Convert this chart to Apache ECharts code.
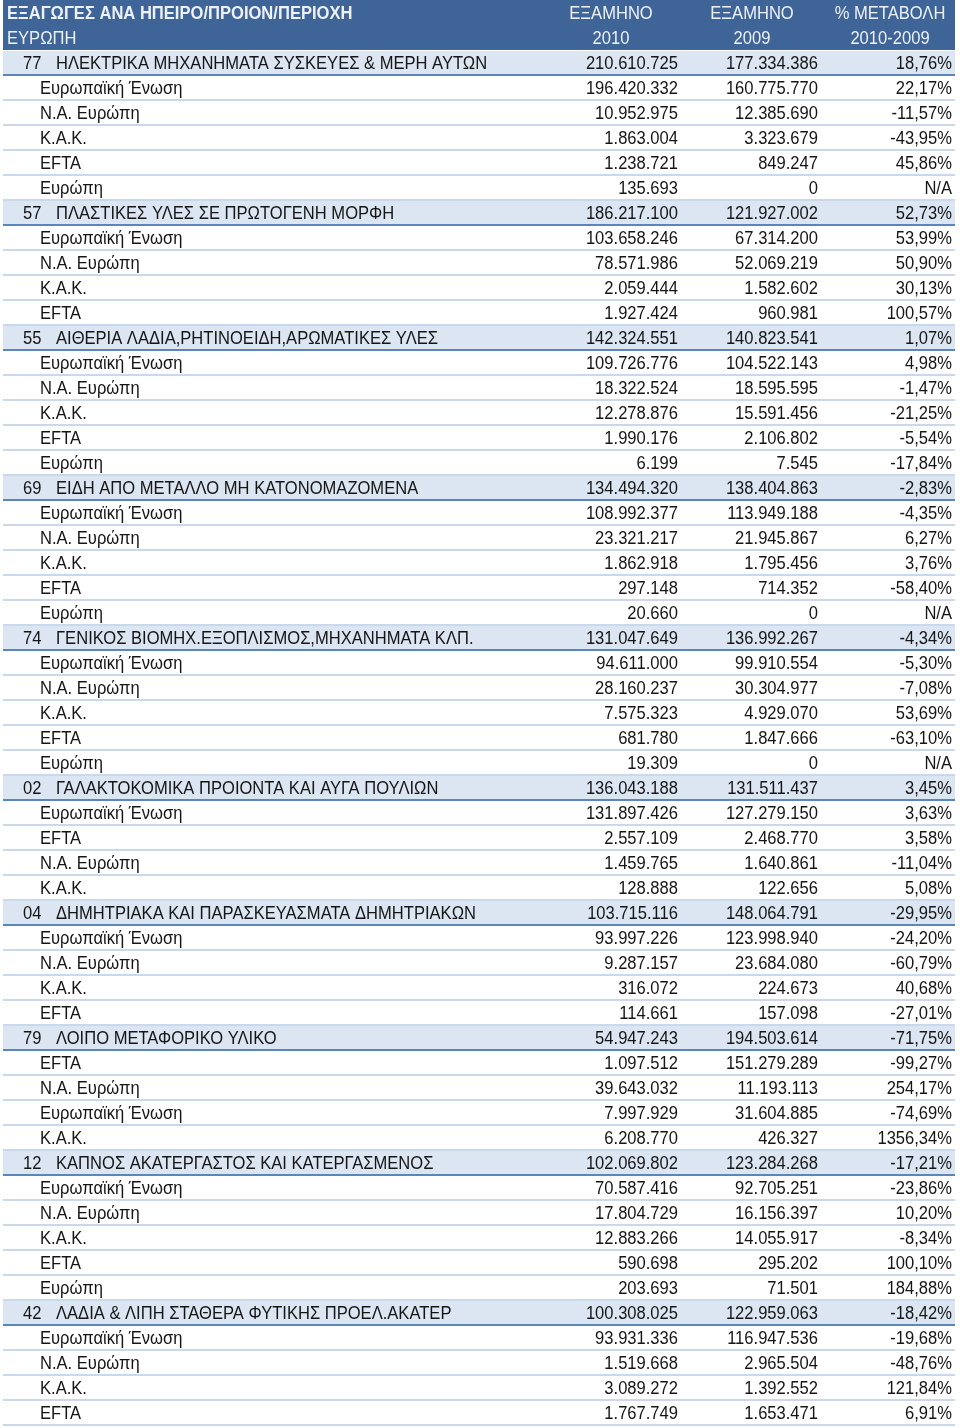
<!DOCTYPE html>
<html>
<head>
<meta charset="utf-8">
<script src="https://cdn.jsdelivr.net/npm/echarts@6/dist/echarts.min.js"></script>
<style>
html,body{margin:0;padding:0;background:#fff;}
#chart{width:960px;height:1428px;}
</style>
</head>
<body>
<div id="chart"></div>
<script>
// ---------- DATA ----------
const headerTitle = 'ΕΞΑΓΩΓΕΣ ΑΝΑ ΗΠΕΙΡΟ/ΠΡΟΙΟΝ/ΠΕΡΙΟΧΗ';
const headerSub = 'ΕΥΡΩΠΗ';
const colHeads1 = ['ΕΞΑΜΗΝΟ', 'ΕΞΑΜΗΝΟ', '% ΜΕΤΑΒΟΛΗ'];
const colHeads2 = ['2010', '2009', '2010-2009'];

const EU = 'Ευρωπαϊκή Ένωση', NA = 'Ν.Α. Ευρώπη', KAK = 'Κ.Α.Κ.', EFTA = 'EFTA', EUR = 'Ευρώπη';

const codes = [
  '77','','','','','',
  '57','','','','',
  '55','','','','','',
  '69','','','','','',
  '74','','','','','',
  '02','','','','',
  '04','','','','',
  '79','','','','',
  '12','','','','','',
  '42','','','',''
];
const labels = [
  'ΗΛΕΚΤΡΙΚΑ ΜΗΧΑΝΗΜΑΤΑ ΣΥΣΚΕΥΕΣ & ΜΕΡΗ ΑΥΤΩΝ', EU, NA, KAK, EFTA, EUR,
  'ΠΛΑΣΤΙΚΕΣ ΥΛΕΣ ΣΕ ΠΡΩΤΟΓΕΝΗ ΜΟΡΦΗ', EU, NA, KAK, EFTA,
  'ΑΙΘΕΡΙΑ ΛΑΔΙΑ,ΡΗΤΙΝΟΕΙΔΗ,ΑΡΩΜΑΤΙΚΕΣ ΥΛΕΣ', EU, NA, KAK, EFTA, EUR,
  'ΕΙΔΗ ΑΠΟ ΜΕΤΑΛΛΟ ΜΗ ΚΑΤΟΝΟΜΑΖΟΜΕΝΑ', EU, NA, KAK, EFTA, EUR,
  'ΓΕΝΙΚΟΣ ΒΙΟΜΗΧ.ΕΞΟΠΛΙΣΜΟΣ,ΜΗΧΑΝΗΜΑΤΑ ΚΛΠ.', EU, NA, KAK, EFTA, EUR,
  'ΓΑΛΑΚΤΟΚΟΜΙΚΑ ΠΡΟΙΟΝΤΑ ΚΑΙ ΑΥΓΑ ΠΟΥΛΙΩΝ', EU, EFTA, NA, KAK,
  'ΔΗΜΗΤΡΙΑΚΑ ΚΑΙ ΠΑΡΑΣΚΕΥΑΣΜΑΤΑ ΔΗΜΗΤΡΙΑΚΩΝ', EU, NA, KAK, EFTA,
  'ΛΟΙΠΟ ΜΕΤΑΦΟΡΙΚΟ ΥΛΙΚΟ', EFTA, NA, EU, KAK,
  'ΚΑΠΝΟΣ ΑΚΑΤΕΡΓΑΣΤΟΣ ΚΑΙ ΚΑΤΕΡΓΑΣΜΕΝΟΣ', EU, NA, KAK, EFTA, EUR,
  'ΛΑΔΙΑ & ΛΙΠΗ ΣΤΑΘΕΡΑ ΦΥΤΙΚΗΣ ΠΡΟΕΛ.ΑΚΑΤΕΡ', EU, NA, KAK, EFTA
];
const exp2010 = [
  210610725, 196420332, 10952975, 1863004, 1238721, 135693,
  186217100, 103658246, 78571986, 2059444, 1927424,
  142324551, 109726776, 18322524, 12278876, 1990176, 6199,
  134494320, 108992377, 23321217, 1862918, 297148, 20660,
  131047649, 94611000, 28160237, 7575323, 681780, 19309,
  136043188, 131897426, 2557109, 1459765, 128888,
  103715116, 93997226, 9287157, 316072, 114661,
  54947243, 1097512, 39643032, 7997929, 6208770,
  102069802, 70587416, 17804729, 12883266, 590698, 203693,
  100308025, 93931336, 1519668, 3089272, 1767749
];
const exp2009 = [
  177334386, 160775770, 12385690, 3323679, 849247, 0,
  121927002, 67314200, 52069219, 1582602, 960981,
  140823541, 104522143, 18595595, 15591456, 2106802, 7545,
  138404863, 113949188, 21945867, 1795456, 714352, 0,
  136992267, 99910554, 30304977, 4929070, 1847666, 0,
  131511437, 127279150, 2468770, 1640861, 122656,
  148064791, 123998940, 23684080, 224673, 157098,
  194503614, 151279289, 11193113, 31604885, 426327,
  123284268, 92705251, 16156397, 14055917, 295202, 71501,
  122959063, 116947536, 2965504, 1392552, 1653471
];
const changePct = [
  18.76, 22.17, -11.57, -43.95, 45.86, null,
  52.73, 53.99, 50.90, 30.13, 100.57,
  1.07, 4.98, -1.47, -21.25, -5.54, -17.84,
  -2.83, -4.35, 6.27, 3.76, -58.40, null,
  -4.34, -5.30, -7.08, 53.69, -63.10, null,
  3.45, 3.63, 3.58, -11.04, 5.08,
  -29.95, -24.20, -60.79, 40.68, -27.01,
  -71.75, -99.27, 254.17, -74.69, 1356.34,
  -17.21, -23.86, 10.20, -8.34, 100.10, 184.88,
  -18.42, -19.68, -48.76, 121.84, 6.91
];

// ---------- LAYOUT / STYLE ----------
const FONT = '"Liberation Sans", Arial, sans-serif';
const FS = 18;
const SX = 0.92;
const TY = 1.5;
const HEADER_BG = '#3E6498';
const HEADER_TX = '#EEF2F8';
const GROUP_BG = '#DCE6F2';
const GROUP_LINE = '#5A86BC';
const ROW_LINE = '#CAD8EB';
const TEXT = '#151515';
const TABLE_L = 3, TABLE_R = 955;
const X_CODE = 23, X_NAME = 56, X_SUB = 40, X_TITLE = 7;
const X_V1 = 678, X_V2 = 818, X_V3 = 952;
const C_H1 = 611, C_H2 = 752, C_H3 = 890;

const fmtInt = v => String(v).replace(/\B(?=(\d{3})+(?!\d))/g, '.');
const fmtPct = v => v === null ? 'N/A' : v.toFixed(2).replace('.', ',') + '%';

const NHEAD = 2;
const rowCats = [];
for (let i = 0; i < NHEAD + labels.length; i++) rowCats.push(String(i));
const seriesData = rowCats.map((c, i) => [0, i]);

function txt(text, x, y, align, color, bold) {
  return {
    type: 'text',
    x: x, y: y + TY, scaleX: SX, scaleY: 1,
    style: {
      text: text, x: 0, y: 0, align: align, verticalAlign: 'middle',
      fill: color, font: (bold ? 'bold ' : '') + FS + 'px ' + FONT
    }
  };
}

function renderItem(params, api) {
  const idx = api.value(1);
  const c = api.coord([0, idx]);
  const yc = c[1];
  const h = api.size([0, 1])[1];
  const X = v => api.coord([v, idx])[0];
  const top = yc - h / 2, bot = yc + h / 2;
  const children = [];
  if (idx < NHEAD) {
    children.push({ type: 'rect', shape: { x: X(TABLE_L), y: top, width: X(TABLE_R) - X(TABLE_L), height: h },
      style: { fill: HEADER_BG } });
    if (idx === 0) {
      children.push(txt(headerTitle, X(X_TITLE), yc, 'left', HEADER_TX, true));
      children.push(txt(colHeads1[0], X(C_H1), yc, 'center', HEADER_TX));
      children.push(txt(colHeads1[1], X(C_H2), yc, 'center', HEADER_TX));
      children.push(txt(colHeads1[2], X(C_H3), yc, 'center', HEADER_TX));
    } else {
      children.push(txt(headerSub, X(X_TITLE), yc, 'left', HEADER_TX));
      children.push(txt(colHeads2[0], X(C_H1), yc, 'center', HEADER_TX));
      children.push(txt(colHeads2[1], X(C_H2), yc, 'center', HEADER_TX));
      children.push(txt(colHeads2[2], X(C_H3), yc, 'center', HEADER_TX));
    }
    return { type: 'group', children: children };
  }
  const r = idx - NHEAD;
  const isGroup = codes[r] !== '';
  if (isGroup) {
    children.push({ type: 'rect', shape: { x: X(TABLE_L), y: top + 1, width: X(TABLE_R) - X(TABLE_L), height: h - 1 },
      style: { fill: GROUP_BG } });
    children.push(txt(codes[r], X(X_CODE), yc, 'left', TEXT));
    children.push(txt(labels[r], X(X_NAME), yc, 'left', TEXT));
  } else {
    children.push(txt(labels[r], X(X_SUB), yc, 'left', TEXT));
  }
  children.push(txt(fmtInt(exp2010[r]), X(X_V1), yc, 'right', TEXT));
  children.push(txt(fmtInt(exp2009[r]), X(X_V2), yc, 'right', TEXT));
  children.push(txt(fmtPct(changePct[r]), X(X_V3), yc, 'right', TEXT));
  children.push({ type: 'line', shape: { x1: X(TABLE_L), y1: bot, x2: X(TABLE_R), y2: bot },
    style: { stroke: isGroup ? GROUP_LINE : ROW_LINE, lineWidth: 2 } });
  return { type: 'group', children: children };
}

const chart = echarts.init(document.getElementById('chart'), null, { renderer: 'canvas' });
chart.setOption({
  animation: false,
  backgroundColor: '#ffffff',
  grid: { left: 0, right: 0, top: 0, height: 25 * rowCats.length },
  xAxis: { type: 'value', min: 0, max: 960, show: false },
  yAxis: { type: 'category', data: rowCats, inverse: true, show: false },
  series: [{
    type: 'custom',
    renderItem: renderItem,
    data: seriesData,
    encode: { x: 0, y: 1 },
    clip: false
  }]
});
</script>
</body>
</html>
